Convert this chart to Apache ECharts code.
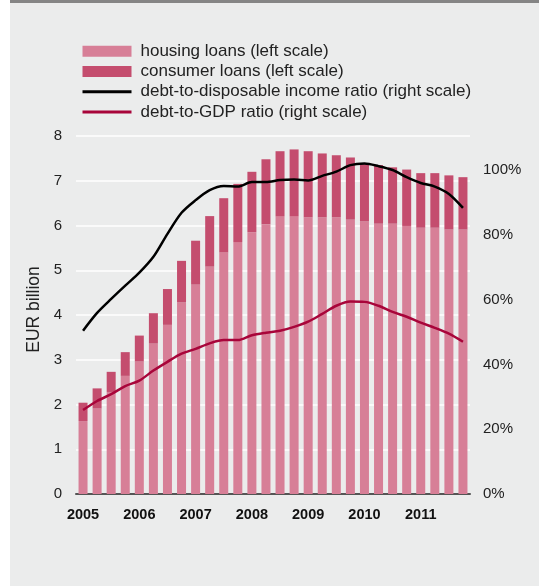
<!DOCTYPE html>
<html>
<head>
<meta charset="utf-8">
<script src="https://cdn.jsdelivr.net/npm/echarts@6/dist/echarts.min.js"></script>
<style>
html,body{margin:0;padding:0;background:#ffffff;}
#wrap{position:absolute;left:10px;top:0;width:529px;height:586px;background:#ebecec;border-top:3px solid #858585;box-sizing:border-box;}
#chart{position:absolute;left:0;top:0;width:539px;height:586px;}
</style>
</head>
<body>
<div id="wrap"></div>
<div id="chart"></div>
<script>
// quarterly categories 2005 Q1 .. 2011 Q4
var years = ['2005','2006','2007','2008','2009','2010','2011'];
var quarters = ['Q1','Q2','Q3','Q4'];
var categories = [];
years.forEach(function(y){ quarters.forEach(function(q){ categories.push(y + ' ' + q); }); });

// EUR billion (left scale)
var housingLoans = [1.63,1.91,2.28,2.64,2.96,3.36,3.78,4.28,4.68,5.08,5.40,5.63,5.85,6.03,
                    6.21,6.21,6.18,6.18,6.18,6.13,6.09,6.04,6.04,5.99,5.95,5.95,5.91,5.91];
var totalLoans   = [2.04,2.36,2.73,3.17,3.54,4.04,4.58,5.21,5.66,6.21,6.61,6.93,7.20,7.48,
                    7.66,7.70,7.66,7.61,7.57,7.52,7.39,7.35,7.30,7.25,7.17,7.17,7.12,7.08];
var consumerLoans = totalLoans.map(function(t,i){ return +(t - housingLoans[i]).toFixed(2); });

// percent (right scale)
var debtToIncome = [50.4,55.9,60.2,64.3,68.3,73.2,80.3,86.8,90.7,93.8,95.1,94.9,96.3,96.3,
                    96.9,97.1,96.8,98.2,99.5,101.5,102.0,101.2,100.0,97.8,96.0,94.9,92.6,88.3];
var debtToGDP    = [25.9,28.7,30.8,33.3,35.0,38.1,40.8,43.3,44.8,46.5,47.5,47.5,49.0,49.8,
                    50.4,51.6,53.2,55.6,58.1,59.4,59.3,58.1,56.2,54.7,52.9,51.3,49.5,47.0];

var leftTicks = [0,1,2,3,4,5,6,7,8];
var rightTicks = [0,20,40,60,80,100];

var FONT = '"Liberation Sans", Arial, Helvetica, sans-serif';
var chart = echarts.init(document.getElementById('chart'), null, {renderer:'canvas'});
chart.setOption({
  backgroundColor: 'transparent',
  animation: false,
  textStyle: {fontFamily: FONT},
  legend: {
    orient: 'vertical',
    left: 76, top: 36,
    itemWidth: 49, itemHeight: 11, itemGap: 0,
    textStyle: {fontSize: 17, color: '#222', fontFamily: FONT, lineHeight: 20.3, padding:[0,0,0,4]},
    data: [
      {name: 'housing loans (left scale)', icon: 'rect'},
      {name: 'consumer loans (left scale)', icon: 'rect'},
      {name: 'debt-to-disposable income ratio (right scale)', itemStyle: {opacity: 0}, lineStyle: {width: 3}},
      {name: 'debt-to-GDP ratio (right scale)', itemStyle: {opacity: 0}, lineStyle: {width: 3}}
    ]
  },
  grid: {left: 76, right: 69, top: 136, bottom: 92},
  xAxis: {
    type: 'category',
    data: categories,
    axisTick: {show: false},
    axisLine: {lineStyle: {color: '#555', width: 2}},
    axisLabel: {
      interval: 0,
      formatter: function(v, i){ return i % 4 === 0 ? v.split(' ')[0] : ''; },
      fontSize: 14.5, fontWeight: 'bold', color: '#111', margin: 13, fontFamily: FONT
    }
  },
  yAxis: [{
    type: 'value', min: leftTicks[0], max: leftTicks[leftTicks.length-1], interval: 1,
    name: 'EUR billion', nameLocation: 'middle', nameGap: 33, nameRotate: 90,
    nameTextStyle: {fontSize: 17.5, color: '#222', fontFamily: FONT, padding: [0,0,0,11]},
    axisLine: {show: false}, axisTick: {show: false},
    axisLabel: {fontSize: 15, color: '#222', margin: 14, fontFamily: FONT},
    splitLine: {lineStyle: {color: '#ffffff', width: 1.5}}
  },{
    type: 'value', min: 0, max: 110.5, interval: 20,
    axisLine: {show: false}, axisTick: {show: false},
    axisLabel: {fontSize: 15, color: '#222', margin: 13, fontFamily: FONT,
      formatter: function(v){ return rightTicks.indexOf(Math.round(v)) >= 0 && Math.abs(v-Math.round(v))<1e-6 ? v + '%' : ''; }},
    splitLine: {show: false}
  }],
  series: [
    {name: 'housing loans (left scale)', type: 'bar', stack: 'loans', data: housingLoans,
     barWidth: 9, itemStyle: {color: '#d77f97'}},
    {name: 'consumer loans (left scale)', type: 'bar', stack: 'loans', data: consumerLoans,
     barWidth: 9, itemStyle: {color: '#c44d6e'}},
    {name: 'debt-to-disposable income ratio (right scale)', type: 'line', yAxisIndex: 1,
     data: debtToIncome, smooth: 0.3, showSymbol: false, symbol: 'none',
     lineStyle: {color: '#000000', width: 2.5}, itemStyle: {color: '#000000'}},
    {name: 'debt-to-GDP ratio (right scale)', type: 'line', yAxisIndex: 1,
     data: debtToGDP, smooth: 0.3, showSymbol: false, symbol: 'none',
     lineStyle: {color: '#a8053a', width: 2.5}, itemStyle: {color: '#a8053a'}}
  ]
});
</script>
</body>
</html>
